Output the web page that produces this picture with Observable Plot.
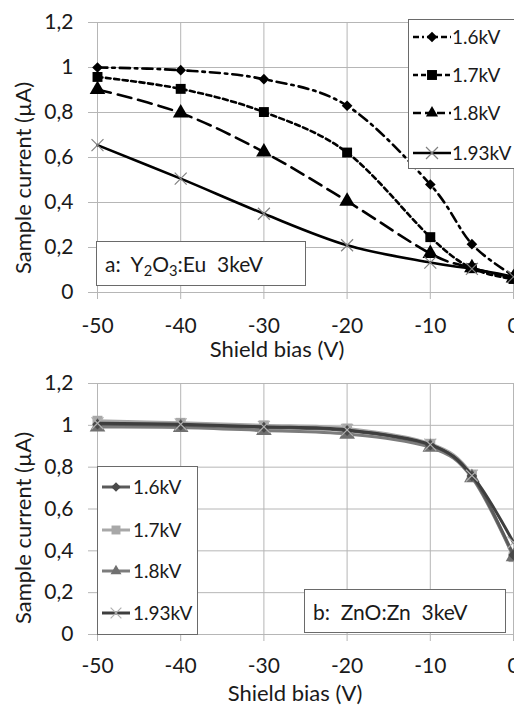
<!DOCTYPE html>
<html><head><meta charset="utf-8">
<script src="https://cdn.jsdelivr.net/npm/d3@7"></script>
<script src="https://cdn.jsdelivr.net/npm/@observablehq/plot@0.6"></script>
<style>
body{margin:0;background:#fff;overflow:hidden}
#wrap{position:relative;width:514px;height:705px;overflow:hidden;font-family:Lato,sans-serif;color:#1a1a1a}
#wrap g[aria-label^="x-axis"], #wrap g[aria-label^="x-axis"] text,
#wrap g[aria-label^="y-axis"], #wrap g[aria-label^="y-axis"] text{font-size:21px !important;font-family:Lato,sans-serif !important;fill:#1a1a1a}
.box{position:absolute;background:#fff;border:1.5px solid #6a6a6a;box-sizing:border-box}
.row{position:absolute;display:flex;align-items:center;height:24px;white-space:nowrap}
.row span{font-size:19px;line-height:24px}
.note{position:absolute;background:#fff;border:1.5px solid #6a6a6a;box-sizing:border-box;display:flex;align-items:center;font-size:21px;white-space:nowrap}
.note sub{font-size:0.7em;vertical-align:-0.3em;line-height:0}
.title{position:absolute;white-space:nowrap;font-size:22px;line-height:22px}
</style></head><body><div id="wrap"></div>
<script>
// ---- data ----
const bias = [-50, -40, -30, -20, -10, -5, 0];
const series = ["1.6kV", "1.7kV", "1.8kV", "1.93kV"];
const xTicks = [-50, -40, -30, -20, -10, 0];
const yTicks = [0, 0.2, 0.4, 0.6, 0.8, 1, 1.2];
const xTitle = "Shield bias (V)";
const yTitle = "Sample current (\u00b5A)";

// panel a: Y2O3:Eu 3keV
const a16 = [1.0, 0.988, 0.948, 0.83, 0.48, 0.215, 0.075];
const a17 = [0.958, 0.905, 0.802, 0.622, 0.246, 0.108, 0.06];
const a18 = [0.902, 0.798, 0.624, 0.406, 0.173, 0.11, 0.065];
const a193 = [0.655, 0.506, 0.35, 0.21, 0.133, 0.105, 0.07];

// panel b: ZnO:Zn 3keV
const b16 = [1.005, 1.0, 0.99, 0.975, 0.905, 0.758, 0.38];
const b17 = [1.022, 1.012, 1.0, 0.985, 0.912, 0.765, 0.37];
const b18 = [0.992, 0.99, 0.975, 0.958, 0.895, 0.75, 0.372];
const b193 = [1.01, 1.005, 0.993, 0.978, 0.908, 0.76, 0.44];

const rows = (vals, s) => vals.map((v, i) => ({bias: bias[i], current: v, series: s}));
const A = [rows(a16, series[0]), rows(a17, series[1]), rows(a18, series[2]), rows(a193, series[3])];
const B = [rows(b16, series[0]), rows(b17, series[1]), rows(b18, series[2]), rows(b193, series[3])];

// ---- styles ----
const dashA = ["10,5,2.5,5", "5,3.5", "14,7", null];
const symbols = ["diamond2", "square", "triangle", "times"];
const rSym = [4.8, 5.6, 5.8, 5.5];
const lineB = ["#5a5a5a", "#a8a8a8", "#7c7c7c", "#3e3e3e"];
const markB = ["#4a4a4a", "#a8a8a8", "#707070", "#b0b0b0"];
const fmtY = d => String(d).replace(".", ",");
const fmtX = d => String(d);
const grid = "#b6b6b6";

function panel({data, height, marginTop, marginBottom, tickPad, styleFn}) {
  const marks = [
    Plot.ruleY(yTicks, {stroke: grid, strokeWidth: 1, insetLeft: -9}),
    Plot.ruleX(xTicks, {stroke: grid, strokeWidth: 1, insetBottom: -7}),
  ];
  data.forEach((d, i) => marks.push(...styleFn(d, i)));
  return Plot.plot({
    width: 514, height, marginTop, marginBottom, marginLeft: 97, marginRight: 1,
    style: {fontFamily: "Lato, sans-serif", fontSize: "21px", background: "transparent", overflow: "visible", color: "#1a1a1a"},
    x: {domain: [-50, 0], ticks: xTicks, tickSize: 0, tickPadding: tickPad, tickFormat: fmtX, label: null},
    y: {domain: [0, 1.2], ticks: yTicks, tickSize: 0, tickPadding: 24, tickFormat: fmtY, label: null},
    marks
  });
}

const styleA = (d, i) => [
  Plot.line(d, {x: "bias", y: "current", curve: "cardinal", stroke: "#000", strokeWidth: 2.6, strokeDasharray: dashA[i]}),
  i === 3
    ? Plot.dot(d, {x: "bias", y: "current", symbol: "times", r: rSym[i], stroke: "#808080", strokeWidth: 1.2})
    : Plot.dot(d, {x: "bias", y: "current", symbol: symbols[i], r: rSym[i], fill: "#000", stroke: "none"})
];
const orderB = [1, 2, 0, 3];
const styleB = (d, i) => {
  const k = orderB[i];
  const dd = B[k];
  return [
    Plot.line(dd, {x: "bias", y: "current", curve: "cardinal", stroke: lineB[k], strokeWidth: 3}),
    k === 3
      ? Plot.dot(dd, {x: "bias", y: "current", symbol: "times", r: 5.5, stroke: markB[k], strokeWidth: 1.2})
      : Plot.dot(dd, {x: "bias", y: "current", symbol: symbols[k], r: rSym[k], fill: markB[k], stroke: "none"})
  ];
};

const wrap = document.getElementById("wrap");
const place = (svg, top) => { svg.style.position = "absolute"; svg.style.left = "0px"; svg.style.top = top + "px"; svg.style.maxWidth = "none"; wrap.appendChild(svg); };
place(panel({data: B, height: 355, marginTop: 33, marginBottom: 71, tickPad: 24, styleFn: styleB}), 350);
place(panel({data: A, height: 365, marginTop: 22, marginBottom: 73, tickPad: 26, styleFn: styleA}), 0);

// ---- titles, legends & notes ----
function title(text, cx, cy, rot) {
  const el = document.createElement("div");
  el.className = "title";
  el.textContent = text;
  Object.assign(el.style, {left: cx + "px", top: cy + "px", transform: `translate(-50%,-50%)${rot ? " rotate(-90deg)" : ""}`});
  wrap.appendChild(el);
}
title(xTitle, 277, 349, false);
title(xTitle, 295, 693, false);
title(yTitle, 23, 178, true);
title(yTitle, 23, 528, true);

function box(cls, l, t, w, h, html) {
  const el = document.createElement("div");
  el.className = cls;
  Object.assign(el.style, {left: l + "px", top: t + "px", width: w + "px", height: h + "px"});
  if (html) el.innerHTML = html;
  wrap.appendChild(el);
  return el;
}
function swatch(w, color, dash, sym, r, mcolor, sw) {
  const ns = "http://www.w3.org/2000/svg";
  const svg = document.createElementNS(ns, "svg");
  svg.setAttribute("width", w); svg.setAttribute("height", 16);
  svg.style.display = "block";
  const ln = document.createElementNS(ns, "line");
  ln.setAttribute("x1", 0); ln.setAttribute("x2", w); ln.setAttribute("y1", 8); ln.setAttribute("y2", 8);
  ln.setAttribute("stroke", color); ln.setAttribute("stroke-width", sw);
  if (dash) ln.setAttribute("stroke-dasharray", dash);
  svg.appendChild(ln);
  const symMap = {diamond2: d3.symbolDiamond2, square: d3.symbolSquare, triangle: d3.symbolTriangle2, times: d3.symbolTimes};
  const p = document.createElementNS(ns, "path");
  p.setAttribute("d", d3.symbol(symMap[sym], r * r * Math.PI)());
  p.setAttribute("transform", `translate(${w / 2},8)`);
  if (sym === "times") { p.setAttribute("fill", "none"); p.setAttribute("stroke", mcolor); p.setAttribute("stroke-width", 1.2); }
  else p.setAttribute("fill", mcolor);
  svg.appendChild(p);
  return svg;
}
function legend(l, t, w, h, ys, sx, sw, textX, mk) {
  box("box", l, t, w, h);
  series.forEach((s, i) => {
    const r = document.createElement("div");
    r.className = "row";
    r.style.left = sx + "px"; r.style.top = (ys[i] - 12) + "px";
    r.appendChild(mk(i, sw));
    const sp = document.createElement("span");
    sp.textContent = s;
    sp.style.marginLeft = (textX - sx - sw) + "px";
    r.appendChild(sp);
    wrap.appendChild(r);
  });
}
legend(408, 19, 120, 150, [37, 75, 113, 153], 413, 38, 452,
  (i, w) => swatch(w, "#000", dashA[i] ? (i === 0 ? "6,3,2,3" : i === 1 ? "5,3" : "8,4") : null, symbols[i], rSym[i], i === 3 ? "#808080" : "#000", 2.6));
legend(97, 466, 101, 169, [487, 530, 571, 613], 102, 28, 133,
  (i, w) => swatch(w, lineB[i], null, symbols[i], rSym[i] * 0.9, markB[i], 3));

box("note", 96, 241, 210, 45, "<span style='padding-left:8px'>a:\u00a0 Y<sub>2</sub>O<sub>3</sub>:Eu\u00a0 3keV</span>");
box("note", 304, 589, 202, 44, "<span style='padding-left:8px'>b:\u00a0 ZnO:Zn\u00a0 3keV</span>");
</script></body></html>
